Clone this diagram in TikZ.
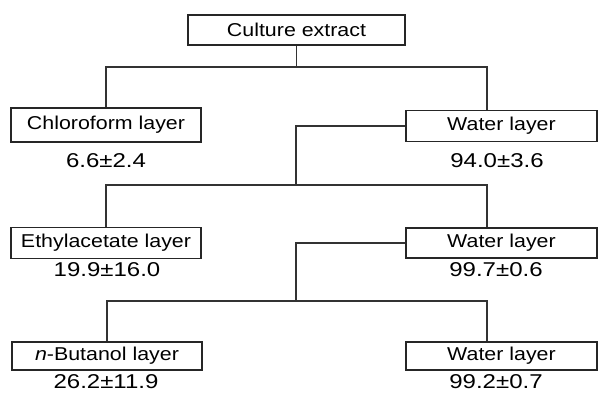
\documentclass[tikz,border=0pt]{standalone}
\usepackage{fontspec}
\setmainfont{Liberation Sans}
\newfontfamily\boxfont[FakeStretch=1.15]{Liberation Sans}
\newfontfamily\valfont[FakeStretch=1.2]{Liberation Sans}
\begin{document}
\begin{tikzpicture}[x=1pt,y=-1pt,
  layer/.style={draw=black!85,line width=1.5pt,inner sep=0pt,minimum width=190pt,minimum height=31pt,font=\boxfont\fontsize{18.6}{20}\selectfont},
  val/.style={inner sep=0pt,font=\valfont\fontsize{20}{22}\selectfont},
  link/.style={draw=black!80,line width=1.5pt}]
\useasboundingbox (0,0) rectangle (599,392);
\node[layer,minimum width=217pt,minimum height=30pt] (culture) at (296.5,30) {Culture extract};
\node[layer,minimum height=34pt] (chloro) at (106,125) {Chloroform layer};
\node[layer,minimum width=191pt] (waterA) at (501.5,126) {Water layer};
\node[layer] (ethyl) at (106,243) {Ethylacetate layer};
\node[layer,minimum width=191pt,minimum height=30pt] (waterB) at (501.5,243) {Water layer};
\node[layer,minimum height=28pt] (butanol) at (107,356) {\textit{n}-Butanol layer};
\node[layer,minimum width=191pt,minimum height=28pt] (waterC) at (501.5,356) {Water layer};
\node[val] (vchloro) at (106,161) {6.6±2.4};
\node[val] (vwaterA) at (497,161) {94.0±3.6};
\node[val] (vethyl) at (107,270) {19.9±16.0};
\node[val] (vwaterB) at (496,270) {99.7±0.6};
\node[val] (vbutanol) at (106,382) {26.2±11.9};
\node[val] (vwaterC) at (496,382) {99.2±0.7};
\coordinate (j1) at (296.5,67);
\coordinate (j2) at (296,185);
\coordinate (j3) at (296,301);
\draw[link] (culture.south) -- (j1);
\draw[link] (chloro.north) |- (j1) -| ([xshift=-14.5pt]waterA.north);
\draw[link] (waterA.west) -| (j2);
\draw[link] (ethyl.north) |- (j2) -| ([xshift=-14.5pt]waterB.north);
\draw[link] (waterB.west) -| (j3);
\draw[link] (butanol.north) |- (j3) -| ([xshift=-14.5pt]waterC.north);
\end{tikzpicture}
\end{document}
